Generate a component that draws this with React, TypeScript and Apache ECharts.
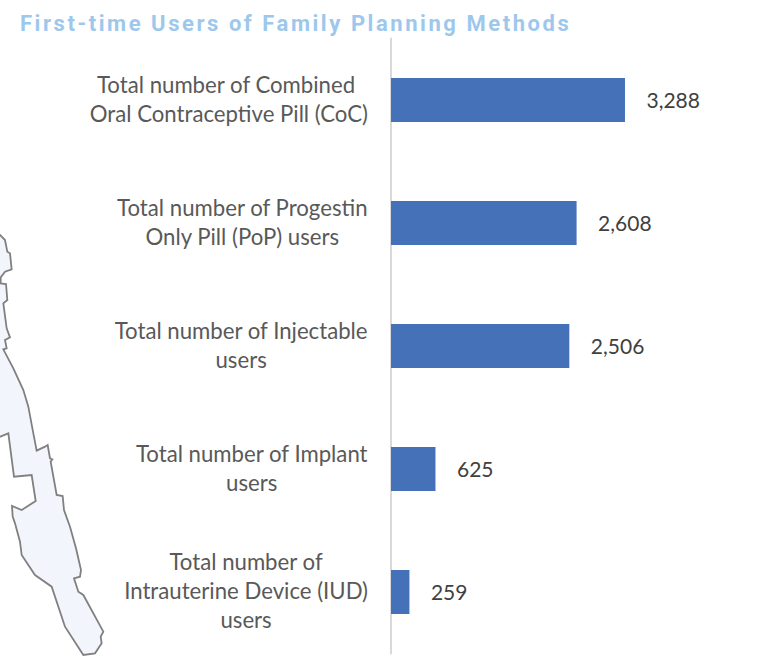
import React, { useEffect, useRef } from "react";
import * as echarts from "echarts";

const titleText = "First-time Users of Family Planning Methods";
const categories = [
  "Total number of Combined \nOral Contraceptive Pill (CoC)",
  "Total number of Progestin\nOnly Pill (PoP) users",
  "Total number of Injectable\nusers",
  "Total number of Implant\nusers",
  "Total number of\nIntrauterine Device (IUD)\nusers",
];
const values = [3288, 2608, 2506, 625, 259];

const mapOutline = [
  [-5, 45], [0, 45], [15, 60], [22, 95], [30, 100], [35, 148], [15, 155], [2, 172], [2, 190], [18, 192], [22, 240],
  [10, 250], [20, 325], [30, 352], [15, 360], [20, 385], [10, 388], [40, 445], [70, 510], [85, 560],
  [100, 640], [110, 692], [135, 680], [143, 675], [150, 715], [157, 718], [152, 725], [170, 825],
  [188, 828], [192, 870], [210, 920], [228, 985], [243, 1050], [240, 1070], [222, 1075], [235, 1115],
  [250, 1125], [310, 1235], [302, 1250], [305, 1270], [285, 1300], [250, 1305], [195, 1220], [155, 1100],
  [105, 1065], [65, 1005], [60, 965], [45, 910], [38, 890], [36, 858], [65, 870], [107, 843], [95, 765],
  [42, 770], [25, 640], [-5, 652],
].map(([x, y]) => [x / 3, y / 3 + 220]);

export default function App() {
  const ref = useRef<HTMLDivElement>(null);
  useEffect(() => {
    document.body.style.margin = "0";
    const chart = echarts.init(ref.current!, null, { renderer: "svg" });
    chart.setOption({
      animation: false,
      backgroundColor: "#ffffff",
      title: {
        text: titleText,
        left: 20,
        top: 12,
        padding: 0,
        textStyle: { fontFamily: "Roboto", fontSize: 22, fontWeight: "bold", color: "#9DC8EC" },
      },
      graphic: [
        {
          type: "polygon",
          z: 0,
          shape: { points: mapOutline },
          style: { fill: "#F2F5FB", stroke: "#808080", lineWidth: 1.8 },
        },
      ],
      grid: { left: 391, top: 38.5, width: 355.8, height: 615 },
      xAxis: { type: "value", min: 0, max: 5000, show: false },
      yAxis: {
        type: "category",
        inverse: true,
        offset: 1,
        data: categories,
        axisTick: { show: false },
        axisLine: { show: true, lineStyle: { color: "#D9D9D9", width: 2 } },
        axisLabel: {
          margin: 22,
          align: "right",
          padding: [0, 0, 3, 0],
          formatter: (v: string) =>
            v.split("\n").map((line) => `{c|${line}}`).join("\n"),
          rich: {
            c: {
              align: "center",
              fontFamily: "Lato",
              fontSize: 22.2,
              lineHeight: 29,
              color: "#595959",
            },
          },
        },
      },
      series: [
        {
          type: "bar",
          data: values,
          barWidth: 44,
          itemStyle: { color: "#4571B9" },
          label: {
            show: true,
            position: "right",
            distance: 21.5,
            offset: [0, -1],
            fontFamily: "Lato",
            fontSize: 21,
            color: "#404040",
            formatter: (p: any) => Number(p.value).toLocaleString("en-US"),
          },
        },
      ],
    });
    ref.current!.querySelectorAll("text").forEach((t) => {
      if ((t.textContent || "").startsWith("First-time")) {
        (t as SVGTextElement).style.letterSpacing = "2.55px";
      }
    });
    return () => chart.dispose();
  }, []);
  return <div ref={ref} style={{ width: 779, height: 663 }} />;
}
